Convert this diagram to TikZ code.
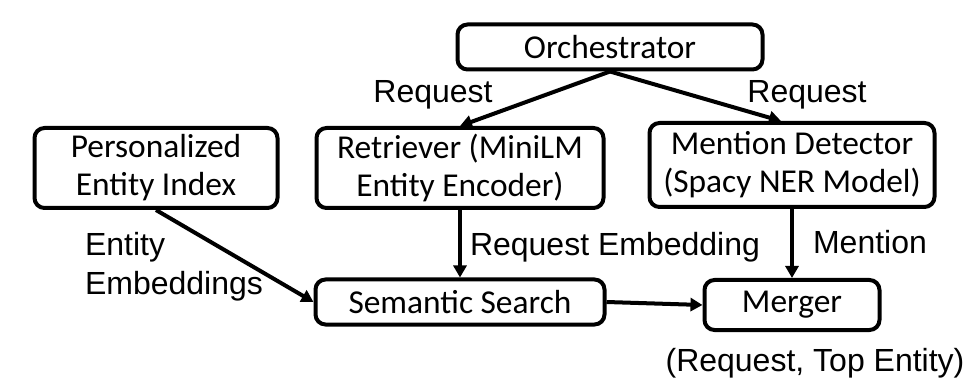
\documentclass[tikz,border=0pt]{standalone}
\usepackage{fontspec}
\setmainfont{Liberation Sans}
\newfontfamily\boxfont{Carlito}
\usetikzlibrary{arrows.meta}
\begin{document}
\begin{tikzpicture}[x=0.5pt,y=-0.5pt,line width=2pt,>={Triangle[length=6pt,width=6.5pt]}]
\tikzstyle{roundbox} = [rectangle, rounded corners=5pt, draw=black, line width=2pt, align=center, font=\boxfont\fontsize{16.7}{19}\selectfont, inner sep=0pt]
\tikzstyle{lbl} = [font=\fontsize{16}{19.5}\selectfont, inner sep=0pt]
\useasboundingbox (0,0) rectangle (976,390);
\node (ret)[roundbox, minimum width=143.5pt, minimum height=40pt] at (460,168) {Retriever (MiniLM\\Entity Encoder)};
\node (pei)[roundbox, left of=ret, node distance=152pt, minimum width=121.5pt, minimum height=40pt] {Personalized\\Entity Index};
\node (men)[roundbox, right of=ret, node distance=166pt, yshift=1.5pt, minimum width=142.5pt, minimum height=42pt] {Mention Detector\\(Spacy NER Model)};
\node (sem)[roundbox, below of=ret, node distance=67pt, minimum width=144.5pt, minimum height=22.5pt] {Semantic Search};
\node (mer)[roundbox, below of=men, node distance=70pt, minimum width=87.5pt, minimum height=25pt] {Merger};
\node (orch)[roundbox, above of=ret, node distance=60.5pt, xshift=75pt, minimum width=152.5pt, minimum height=22.5pt] {Orchestrator};
% edge labels
\node (reqA)[lbl] at (433,95) {Request};
\node (reqB)[lbl] at (807,95) {Request};
\node (embs)[lbl, align=left, anchor=west] at (83,267) {Entity\\Embeddings};
\node (reqemb)[lbl] at (615,247) {Request Embedding};
\node (mention)[lbl] at (870,242) {Mention};
\node (out)[lbl] at (815,363) {(Request, Top Entity)};
\draw [->] (orch.south) -- (ret.north);
\draw [->] (orch.south) -- ([xshift=-5.5pt]men.north);
\draw [->] (pei.south) -- (sem.west);
\draw [->] (ret.south) -- (sem.north);
\draw [->] (men.south) -- (mer.north);
\draw [->] (sem.east) -- (mer.west);
\end{tikzpicture}
\end{document}
